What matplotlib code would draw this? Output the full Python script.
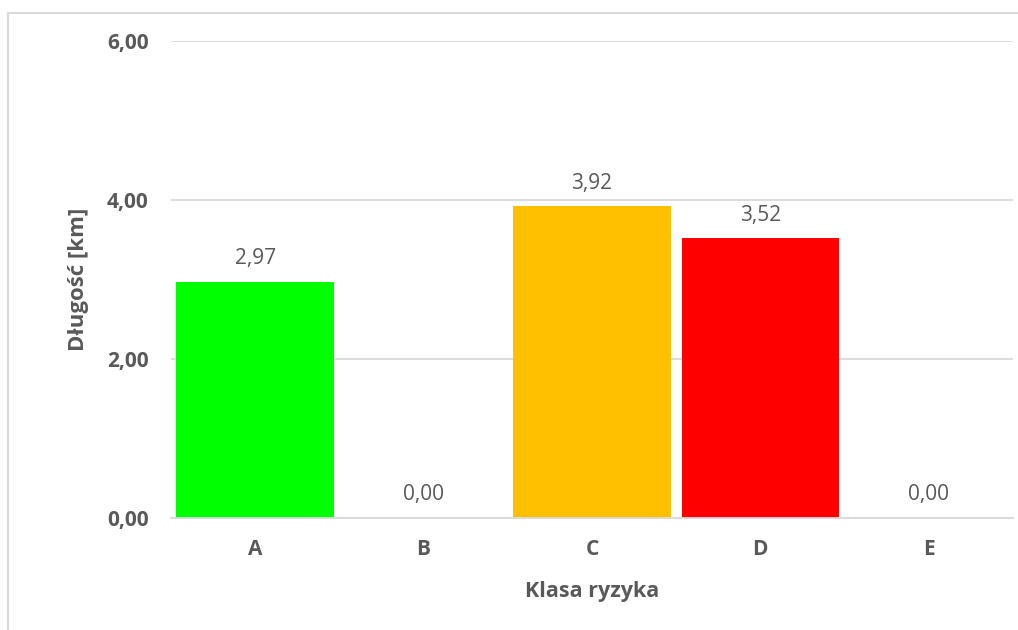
import matplotlib
matplotlib.use("Agg")
import matplotlib.pyplot as plt
from matplotlib.lines import Line2D

# Risk class lengths
categories = ["A", "B", "C", "D", "E"]
lengths_km = [2.97, 0.00, 3.92, 3.52, 0.00]
bar_colors = ["#00FF00", "#00FF00", "#FFC000", "#FF0000", "#FF0000"]
y_ticks = [0, 2, 4, 6]

plt.rcParams["font.family"] = ["Open Sans", "DejaVu Sans"]
text_gray = "#595959"
grid_gray = "#D9D9D9"


def pl(v):
    return f"{v:.2f}".replace(".", ",")


fig = plt.figure(figsize=(10.18, 6.30), dpi=100)
ax = fig.add_axes([0.168, 0.178, 0.827, 0.757])

x = list(range(len(categories)))
bars = ax.bar(x, lengths_km, width=0.935, color=bar_colors, zorder=2)

ax.set_xlim(-0.5, len(categories) - 0.5)
ax.set_ylim(0, 6)
ax.set_yticks(y_ticks)
ax.set_yticklabels([pl(t) for t in y_ticks])
ax.set_xticks(x)
ax.set_xticklabels(categories)

for lbl in ax.get_yticklabels() + ax.get_xticklabels():
    lbl.set_fontweight("bold")
    lbl.set_fontsize(15)
    lbl.set_color(text_gray)

ax.tick_params(axis="y", length=0, pad=16)
ax.tick_params(axis="x", length=0, pad=15)

ax.grid(axis="y", color=grid_gray, linewidth=1.3, zorder=0)
ax.set_axisbelow(True)
for side in ["top", "right", "left"]:
    ax.spines[side].set_visible(False)
ax.spines["bottom"].set_color(grid_gray)
ax.spines["bottom"].set_linewidth(1.3)

for b, v in zip(bars, lengths_km):
    ax.annotate(pl(v), (b.get_x() + b.get_width() / 2, v),
                xytext=(0, 9), textcoords="offset points",
                ha="center", va="bottom", fontsize=15, color=text_gray)

ax.set_xlabel("Klasa ryzyka", fontsize=15.5, fontweight="bold", color=text_gray)
ax.set_ylabel("Długość [km]", fontsize=16, fontweight="bold", color=text_gray)
ax.xaxis.set_label_coords(0.5, -0.132)
ax.yaxis.set_label_coords(-0.098, 0.5)

# Outer frame (top and left edges)
frame_col = "#D9D9D9"
fig.add_artist(Line2D([8 / 1018, 1.0], [1 - 13 / 630, 1 - 13 / 630],
                      transform=fig.transFigure, color=frame_col, linewidth=1.5))
fig.add_artist(Line2D([8 / 1018, 8 / 1018], [0.0, 1 - 13 / 630],
                      transform=fig.transFigure, color=frame_col, linewidth=1.5))

fig.savefig("out.png", dpi=100)
